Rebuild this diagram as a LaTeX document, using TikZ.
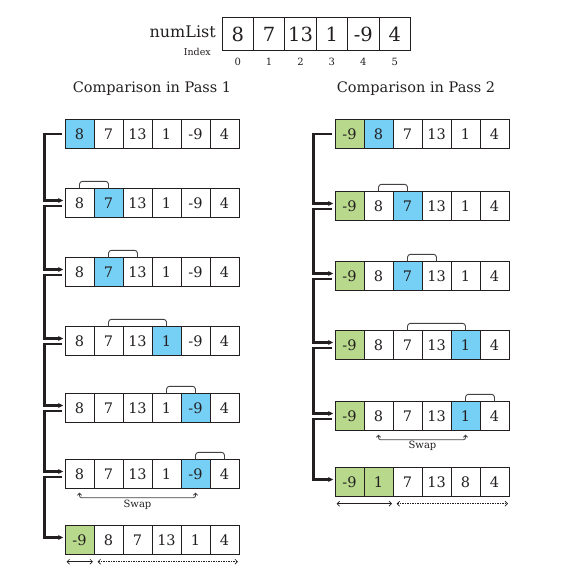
\documentclass[tikz,border=0pt]{standalone}
\usepackage{fontspec}
\setmainfont{DejaVu Serif}
\usetikzlibrary{arrows.meta}
\definecolor{cblue}{RGB}{118,208,245}
\definecolor{cgreen}{RGB}{184,217,140}
\definecolor{ink}{RGB}{35,31,32}
\tikzset{
  cell/.style={draw=ink, line width=0.9pt, minimum width=29pt, minimum height=28.5pt,
    inner sep=0pt, text=ink, font=\fontsize{14.5}{14.5}\selectfont},
  topcell/.style={draw=ink, line width=1pt, minimum width=31.4pt, minimum height=33pt,
    inner sep=0pt, text=ink, font=\fontsize{19.5}{19.5}\selectfont},
  conn/.style={draw=ink, line width=2.2pt, -{Stealth[length=5pt,width=5pt]}},
  brk/.style={draw=ink!85, line width=0.9pt, rounded corners=3pt},
  swp/.style={draw=ink!85, line width=0.8pt, rounded corners=2pt,
    {Straight Barb[length=2pt,width=4pt]}-{Straight Barb[length=2pt,width=4pt]}},
  rng/.style={draw=ink, line width=0.7pt,
    {Straight Barb[length=2.5pt,width=5pt]}-{Straight Barb[length=2.5pt,width=5pt]}},
  rngd/.style={rng, dash pattern=on 1.5pt off 1pt},
  lbl/.style={text=ink, inner sep=0pt},
}
\newcommand{\cellrow}[4]{%
  \foreach \v/\c [count=\i from 0] in {#4} {
    \node[cell, fill=\c] (#1c\i) at ({#2+14.5+29*\i},#3) {\v};
  }}
\begin{document}
\begin{tikzpicture}[x=1pt,y=-1pt]
\useasboundingbox (0,0) rectangle (566,575);

% top array
\node[lbl, anchor=east, font=\fontsize{16}{16}\selectfont] (nl) at (216,32) {numList};
\node[lbl, anchor=east, font=\fontsize{9.5}{9.5}\selectfont] (idx) at (211,52) {Index};
\foreach \v [count=\i from 0] in {8,7,13,1,-9,4} {
  \node[topcell] (t\i) at ({222+15.7+31.4*\i},34.5) {\v};
  \node[lbl, font=\fontsize{10}{10}\selectfont] (ti\i) at ({222+15.7+31.4*\i},62) {\i};
}

% titles
\node[lbl, font=\fontsize{14.5}{14.5}\selectfont] (h1) at (152,89) {Comparison in Pass 1};
\node[lbl, font=\fontsize{14.5}{14.5}\selectfont] (h2) at (416,89) {Comparison in Pass 2};

% pass 1 rows
\cellrow{a1}{65}{134}{8/cblue,7/white,13/white,1/white,-9/white,4/white}
\cellrow{a2}{65}{203}{8/white,7/cblue,13/white,1/white,-9/white,4/white}
\cellrow{a3}{65}{272}{8/white,7/cblue,13/white,1/white,-9/white,4/white}
\cellrow{a4}{65}{341}{8/white,7/white,13/white,1/cblue,-9/white,4/white}
\cellrow{a5}{65}{408}{8/white,7/white,13/white,1/white,-9/cblue,4/white}
\cellrow{a6}{65}{474}{8/white,7/white,13/white,1/white,-9/cblue,4/white}
\cellrow{a7}{65}{540}{-9/cgreen,8/white,7/white,13/white,1/white,4/white}

% pass 2 rows
\cellrow{b1}{335}{134}{-9/cgreen,8/cblue,7/white,13/white,1/white,4/white}
\cellrow{b2}{335}{206}{-9/cgreen,8/white,7/cblue,13/white,1/white,4/white}
\cellrow{b3}{335}{276}{-9/cgreen,8/white,7/cblue,13/white,1/white,4/white}
\cellrow{b4}{335}{345}{-9/cgreen,8/white,7/white,13/white,1/cblue,4/white}
\cellrow{b5}{335}{416}{-9/cgreen,8/white,7/white,13/white,1/cblue,4/white}
\cellrow{b6}{335}{482}{-9/cgreen,1/cgreen,7/white,13/white,8/white,4/white}

% connectors pass 1
\draw[conn] ([xshift=-3pt]a1c0.west) -- ++(-17pt,0) |- ([xshift=-1.5pt,yshift=2.5pt]a2c0.west);
\foreach \r [evaluate=\r as \n using int(\r+1)] in {2,...,6} {
  \draw[conn] ([xshift=-3pt,yshift=-3pt]a\r c0.west) -- ++(-17pt,0) |- ([xshift=-1.5pt,yshift=2.5pt]a\n c0.west);
}
% connectors pass 2
\draw[conn] ([xshift=-3pt]b1c0.west) -- ++(-18pt,0) |- ([xshift=-1.5pt,yshift=2.5pt]b2c0.west);
\foreach \r [evaluate=\r as \n using int(\r+1)] in {2,...,5} {
  \draw[conn] ([xshift=-3pt,yshift=-3pt]b\r c0.west) -- ++(-18pt,0) |- ([xshift=-1.5pt,yshift=2.5pt]b\n c0.west);
}

% comparison brackets pass 1
\draw[brk] (a2c0.north) -- ++(0,7pt) -| (a2c1.north);
\draw[brk] (a3c1.north) -- ++(0,7pt) -| (a3c2.north);
\draw[brk] (a4c1.north) -- ++(0,7pt) -| (a4c3.north);
\draw[brk] (a5c3.north) -- ++(0,7pt) -| (a5c4.north);
\draw[brk] (a6c4.north) -- ++(0,7pt) -| (a6c5.north);
% comparison brackets pass 2
\draw[brk] (b2c1.north) -- ++(0,7pt) -| (b2c2.north);
\draw[brk] (b3c2.north) -- ++(0,7pt) -| (b3c3.north);
\draw[brk] (b4c2.north) -- ++(0,7pt) -| (b4c4.north);
\draw[brk] (b5c4.north) -- ++(0,7pt) -| (b5c5.north);

% swaps
\draw[swp] ([yshift=-4pt]a6c0.south) -- ++(0,-5pt) -| ([yshift=-4pt]a6c4.south);
\node[lbl, font=\fontsize{10}{10}\selectfont] (sw1) at (137.5,505) {Swap};
\draw[swp] ([yshift=-4pt]b5c1.south) -- ++(0,-5pt) -| ([yshift=-4pt]b5c4.south);
\node[lbl, font=\fontsize{10}{10}\selectfont] (sw2) at (422.5,446) {Swap};

% range arrows
\draw[rng] ([xshift=2pt,yshift=-7pt]a7c0.south west) -- ([xshift=-1.5pt,yshift=-7pt]a7c0.south east);
\draw[rngd] ([xshift=4pt,yshift=-7pt]a7c1.south west) -- ([xshift=-1.5pt,yshift=-7pt]a7c5.south east);
\draw[rng] ([xshift=2pt,yshift=-7pt]b6c0.south west) -- ([xshift=-1.5pt,yshift=-7pt]b6c1.south east);
\draw[rngd] ([xshift=4pt,yshift=-7pt]b6c2.south west) -- ([xshift=-1.5pt,yshift=-7pt]b6c5.south east);
\end{tikzpicture}
\end{document}
